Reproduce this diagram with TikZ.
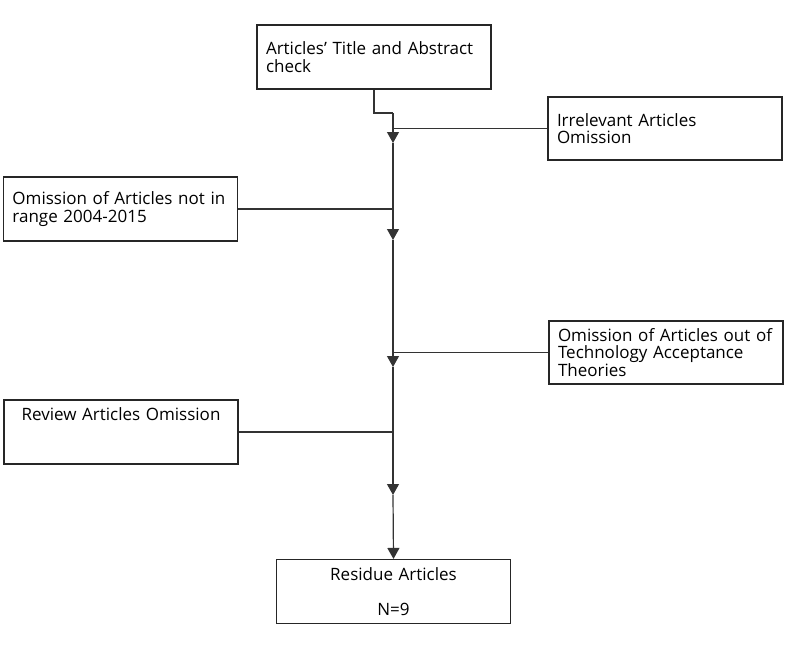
\documentclass[tikz,border=0pt]{standalone}
\usepackage{fontspec}
\setmainfont{Open Sans}
\usetikzlibrary{arrows.meta}
\begin{document}
\begin{tikzpicture}[x=1pt, y=-1pt,
    stagebox/.style={draw=black!85, line width=1.1pt, minimum width=234pt, minimum height=64pt,
      inner xsep=9pt, inner ysep=0pt, text width=216pt, align=left,
      font=\fontsize{17}{17.5}\selectfont},
    flow/.style={draw=black!80, line width=1.2pt},
    tip/.style={-{Triangle[width=12pt, length=11pt]}}]
    \useasboundingbox (0,0) rectangle (787,661);
    % 筛选步骤
    \node[stagebox] (check) at (374,57) {Articles’ Title and Abstract\\check};
    \node[stagebox, minimum height=63pt] (irrelevant) at (665,128.5) {Irrelevant Articles\\Omission};
    \node[stagebox] (range) at (120.5,209) {Omission of Articles not in\\range 2004-2015};
    \node[stagebox, minimum height=63pt] (theory) at (666,352.5) {Omission of Articles out of\\Technology Acceptance\\Theories};
    \node[stagebox, align=center] (review) at (121,432) {Review Articles Omission\\ ~\\ ~};
    \node[stagebox, align=center] (result) at (393.5,591.5) {Residue Articles\\ ~\\ N=9};
    % 主干线上的点
    \coordinate (bend) at (393,113);
    \coordinate (a1) at (393,143);
    \coordinate (a2) at (393,240);
    \coordinate (a3) at (393,367);
    \coordinate (a4) at (393,495);
    % 主干
    \draw[flow] (check.south) |- (bend);
    \draw[flow, tip] (bend) -- (a1);
    \draw[flow, tip] (a1) -- (a2);
    \draw[flow, tip] (a2) -- (a3);
    \draw[flow, tip] (a3) -- (a4);
    \draw[flow, tip] (a4) -- (result.north);
    % 侧边连线
    \draw[flow] (irrelevant.west) -- (irrelevant.west -| bend);
    \draw[flow] (range.east) -- (range.east -| bend);
    \draw[flow] (theory.west) -- (theory.west -| bend);
    \draw[flow] (review.east) -- (review.east -| bend);
\end{tikzpicture}
\end{document}
